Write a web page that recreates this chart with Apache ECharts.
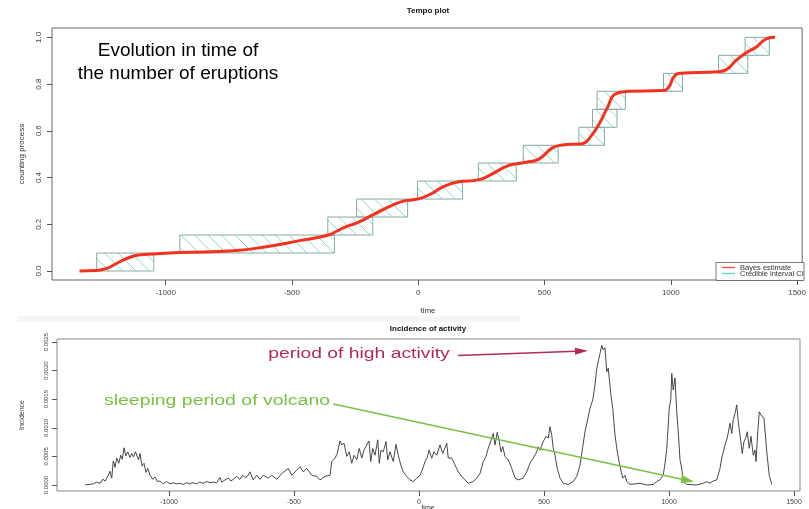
<!DOCTYPE html>
<html>
<head>
<meta charset="utf-8">
<script src="https://cdn.jsdelivr.net/npm/echarts@6/dist/echarts.min.js"></script>
<style>html,body{margin:0;padding:0;background:#fff}#c{width:809px;height:509px}</style>
</head>
<body>
<div id="c"></div>
<script>
// ---- Tempo plot: Bayes estimate of the counting process ----
const bayesTime  = [-1341,-1274,-1233,-1194,-1141,-1102,-1049,-944,-733,-601,-470,-358,-325,-285,-240,-180,-115,-62,-20,17,56,96,155,241,293,359,425,478,530,570,649,682,715,748,781,833,965,991,1011,1037,1189,1222,1255,1294,1340,1373,1406,1413];
const bayesValue = [0,0.002,0.011,0.033,0.059,0.069,0.073,0.079,0.087,0.104,0.130,0.153,0.169,0.190,0.207,0.240,0.276,0.298,0.305,0.314,0.333,0.359,0.381,0.391,0.416,0.452,0.465,0.479,0.526,0.539,0.545,0.574,0.627,0.697,0.758,0.769,0.772,0.785,0.829,0.846,0.853,0.863,0.898,0.931,0.960,0.991,1.0,1.0];

// ---- Credible interval steps (start / end of each step, step levels) ----
const ciStart  = [-1273,-944,-358,-244,-3,238,416,636,690,708,971,1189,1294];
const ciEnd    = [-1047,-332,-180,-42,175,388,554,737,787,820,1046,1305,1390];
const ciLevels = [0,0.077,0.154,0.231,0.308,0.385,0.462,0.538,0.615,0.692,0.769,0.846,0.923,1.0];

// ---- Incidence of activity ----
const incTime = [-1336,-1320,-1303,-1290,-1283,-1276,-1265,-1255,-1243,-1236,-1229,-1223,-1216,-1209,-1201,-1193,-1187,-1180,-1173,-1165,-1156,-1149,-1142,-1134,-1127,-1122,-1116,-1108,-1100,-1092,-1085,-1076,-1065,-1056,-1047,-1036,-1023,-1010,-996,-983,-970,-957,-943,-930,-917,-904,-890,-877,-863,-850,-836,-823,-809,-796,-789,-776,-763,-753,-743,-729,-716,-705,-695,-685,-676,-663,-649,-636,-623,-603,-589,-569,-549,-543,-523,-509,-489,-476,-463,-449,-429,-409,-396,-376,-356,-349,-336,-327,-316,-309,-300,-289,-279,-269,-260,-249,-239,-229,-220,-209,-200,-193,-185,-176,-165,-159,-152,-143,-132,-125,-116,-103,-92,-83,-73,-63,-49,-36,-23,-9,4,13,24,33,40,51,60,71,84,95,111,117,131,144,157,171,184,197,217,231,244,257,268,277,291,297,304,313,321,328,335,344,357,371,384,397,417,431,444,457,471,477,484,497,508,517,524,531,537,544,553,564,577,597,617,631,644,655,664,673,684,695,704,711,717,724,731,737,744,751,757,767,775,784,793,804,815,824,831,844,884,911,937,951,964,977,984,991,997,1001,1007,1011,1017,1024,1031,1037,1044,1051,1057,1071,1111,1137,1151,1164,1177,1191,1204,1211,1224,1233,1244,1251,1257,1264,1271,1277,1284,1293,1300,1307,1313,1321,1328,1337,1344,1348,1355,1361,1371,1380,1391,1401,1411];
const incValue = [0,0.00001,0.00002,0.00005,0.00006,0.00003,0.0001,0.00007,0.00017,0.00024,0.00012,0.00042,0.00031,0.00047,0.00038,0.00052,0.00045,0.00065,0.00051,0.00058,0.00048,0.00055,0.00049,0.00058,0.00061,0.00044,0.00055,0.00033,0.00038,0.00022,0.00029,0.00017,0.0001,0.00014,0.00006,0.00007,0.00002,0.00006,0.00002,0.00004,0.00002,0.00003,0.00001,0.00004,0.00002,0.00004,0.00002,0.00005,0.00003,0.00006,0.00004,0.00005,0.00004,0.00013,0.00005,0.00009,0.00012,0.00007,0.0001,0.00015,0.0001,0.00017,0.00013,0.00016,0.00023,0.00009,0.00017,0.0001,0.00017,0.00012,0.00017,0.0001,0.0002,0.00023,0.00029,0.00017,0.00026,0.00032,0.00023,0.00029,0.00017,0.00015,0.00009,0.00015,0.00017,0.00041,0.00047,0.00055,0.00077,0.0007,0.00073,0.0005,0.00058,0.00038,0.00052,0.00044,0.00064,0.00047,0.00061,0.0007,0.00077,0.00041,0.00064,0.00052,0.00079,0.00038,0.00061,0.00058,0.00076,0.00044,0.00058,0.00041,0.00071,0.00052,0.00035,0.00023,0.00015,0.00009,0.00006,0.00012,0.00017,0.00026,0.00041,0.00048,0.00061,0.00047,0.00058,0.00052,0.0007,0.00055,0.00073,0.00047,0.00047,0.00035,0.00023,0.00015,0.00009,0.00003,0.00006,0.00012,0.0002,0.00041,0.0005,0.00064,0.00082,0.0009,0.0007,0.00092,0.00076,0.00058,0.00067,0.0005,0.00044,0.00029,0.00012,0.00009,0.00012,0.00023,0.00038,0.00047,0.00058,0.00067,0.00061,0.00076,0.00085,0.00082,0.00102,0.00087,0.00064,0.00052,0.00029,0.00012,0.00003,0.00001,0.00006,0.00015,0.00035,0.00067,0.00093,0.00111,0.00134,0.00149,0.00175,0.00204,0.00216,0.0023,0.00244,0.00236,0.0024,0.00198,0.00204,0.0016,0.00134,0.00087,0.00058,0.00032,0.00012,0.00017,0.00006,0.00001,0.00003,0,0.00001,0.00006,0.00009,0.00017,0.00038,0.00064,0.00105,0.00134,0.00149,0.00195,0.00166,0.00187,0.00128,0.00093,0.00044,0.00029,0.00006,0.00001,0,0.00003,0.00006,0.00003,0.00007,0.00009,0.00029,0.00047,0.0007,0.00082,0.00108,0.0009,0.00114,0.00125,0.0014,0.00111,0.00087,0.00055,0.00076,0.00082,0.00093,0.00064,0.00085,0.00052,0.00061,0.00041,0.00093,0.00128,0.0012,0.00117,0.00058,0.00017,0.00001];

// ---- Tick labels ----
const timeTicks = [-1000,-500,0,500,1000,1500];
const countTicks = [0,0.2,0.4,0.6,0.8,1.0];
const incTicks = [0,0.0005,0.001,0.0015,0.002,0.0025];

const bayesData = bayesTime.map((t,i)=>[t,bayesValue[i]]);
const ciData = ciStart.map((s,i)=>[s,ciEnd[i],ciLevels[i],ciLevels[i+1]]);
const incData = incTime.map((t,i)=>[t,incValue[i]]);

const FONT = '"Liberation Sans", Arial, sans-serif';
const HATCH = '#7fd1cc';
const BORDER = '#86aaa7';

function renderCI(params, api){
  const p0 = api.coord([api.value(0), api.value(3)]);
  const p1 = api.coord([api.value(1), api.value(2)]);
  const left = p0[0], top = p0[1], right = p1[0], bottom = p1[1];
  const children = [];
  const s = 13.5;
  const cStart = Math.ceil((left - bottom)/s)*s;
  for (let c = cStart; c <= right - top; c += s){
    const ya = Math.max(top, left - c), yb = Math.min(bottom, right - c);
    if (yb > ya) children.push({type:'line', shape:{x1:ya+c,y1:ya,x2:yb+c,y2:yb}, style:{stroke:HATCH,lineWidth:0.9}});
  }
  children.push({type:'rect', shape:{x:left,y:top,width:right-left,height:bottom-top}, style:{fill:null,stroke:BORDER,lineWidth:1}});
  return {type:'group', children};
}

function tickAxis(extra){
  return Object.assign({
    type:'value',
    axisLine:{show:false, onZero:false},
    splitLine:{show:false}
  }, extra);
}
const plain = v => String(v);

const chart = echarts.init(document.getElementById('c'));
chart.setOption({
  animation:false,
  backgroundColor:'#fff',
  grid:[
    {left:52, top:28, width:752, height:252, show:true, borderColor:'#666', borderWidth:1},
    {left:57, top:339, width:743, height:152, show:true, borderColor:'#888', borderWidth:1}
  ],
  xAxis:[
    tickAxis({gridIndex:0, min:-1450, max:1520, position:'bottom',
      axisTick:{show:true,length:5,lineStyle:{color:'#555'},customValues:timeTicks},
      axisLabel:{customValues:timeTicks, fontSize:8, color:'#444', fontFamily:FONT, margin:9, formatter:plain}}),
    tickAxis({gridIndex:1, min:-1448, max:1524, position:'bottom',
      axisTick:{show:true,length:5,lineStyle:{color:'#555'},customValues:timeTicks},
      axisLabel:{customValues:timeTicks, fontSize:7, color:'#444', fontFamily:FONT, margin:8, formatter:plain}})
  ],
  yAxis:[
    tickAxis({gridIndex:0, min:-0.0385, max:1.04, position:'left',
      axisTick:{show:true,length:5,lineStyle:{color:'#555'},customValues:countTicks},
      axisLabel:{customValues:countTicks, rotate:90, fontSize:8, color:'#444', fontFamily:FONT, margin:9,
        formatter:v=>v.toFixed(1)}}),
    tickAxis({gridIndex:1, min:-0.000105, max:0.002552, position:'left',
      axisTick:{show:true,length:5,lineStyle:{color:'#555'},customValues:incTicks},
      axisLabel:{customValues:incTicks, rotate:90, fontSize:6, color:'#444', fontFamily:FONT, margin:8,
        formatter:v=>v.toFixed(4)}})
  ],
  series:[
    {type:'custom', xAxisIndex:0, yAxisIndex:0, data:ciData, renderItem:renderCI, silent:true, z:1},
    {type:'line', xAxisIndex:0, yAxisIndex:0, data:bayesData, showSymbol:false, smooth:0.5,
      lineStyle:{color:'#f2321f', width:3}, z:3, silent:true},
    {type:'line', xAxisIndex:1, yAxisIndex:1, data:incData, showSymbol:false,
      lineStyle:{color:'#333', width:0.9}, z:3, silent:true}
  ],
  graphic:[
    {type:'rect', shape:{x:17,y:316,width:503,height:6}, style:{fill:'#f5f5f5'}, z:0, silent:true},
    {type:'text', x:428, y:11, style:{text:'Tempo plot', font:'bold 8px '+FONT, fill:'#111', align:'center', verticalAlign:'middle', textAlign:'center', textVerticalAlign:'middle'}},
    {type:'text', x:22, y:154, rotation:Math.PI/2, style:{text:'counting process', font:'8px '+FONT, fill:'#333', align:'center', verticalAlign:'middle', textAlign:'center', textVerticalAlign:'middle'}},
    {type:'text', x:428, y:311, style:{text:'time', font:'8px '+FONT, fill:'#333', align:'center', verticalAlign:'middle', textAlign:'center', textVerticalAlign:'middle'}},
    {type:'text', x:428, y:329, style:{text:'Incidence of activity', font:'bold 8px '+FONT, fill:'#111', align:'center', verticalAlign:'middle', textAlign:'center', textVerticalAlign:'middle'}},
    {type:'text', x:22, y:415, rotation:Math.PI/2, style:{text:'Incidence', font:'7px '+FONT, fill:'#333', align:'center', verticalAlign:'middle', textAlign:'center', textVerticalAlign:'middle'}},
    {type:'text', x:428, y:508, style:{text:'time', font:'7px '+FONT, fill:'#333', align:'center', verticalAlign:'middle', textAlign:'center', textVerticalAlign:'middle'}},
    {type:'text', x:178, y:51, style:{text:'Evolution in time of', font:'19px '+FONT, fill:'#000', align:'center', verticalAlign:'middle', textAlign:'center', textVerticalAlign:'middle'}},
    {type:'text', x:178, y:74, style:{text:'the number of eruptions', font:'19px '+FONT, fill:'#000', align:'center', verticalAlign:'middle', textAlign:'center', textVerticalAlign:'middle'}},
    // legend
    {type:'rect', shape:{x:716,y:262.5,width:88,height:18}, style:{fill:'#fff',stroke:'#555',lineWidth:0.8}, z:10},
    {type:'line', shape:{x1:722,y1:267.5,x2:735,y2:267.5}, style:{stroke:'#ff4a40',lineWidth:1.3}, z:11},
    {type:'line', shape:{x1:722,y1:273.5,x2:735,y2:273.5}, style:{stroke:'#5fd0c8',lineWidth:1.3}, z:11},
    {type:'text', x:740, y:267.5, z:11, style:{text:'Bayes estimate', font:'7.5px '+FONT, fill:'#333', align:'left', verticalAlign:'middle', textAlign:'left', textVerticalAlign:'middle'}},
    {type:'text', x:740, y:273.5, z:11, style:{text:'Credible interval CI', font:'7.5px '+FONT, fill:'#333', align:'left', verticalAlign:'middle', textAlign:'left', textVerticalAlign:'middle'}},
    // annotations bottom
    {type:'text', x:359, y:354, scaleX:1.38, z:12, style:{text:'period of high activity', font:'14px '+FONT, fill:'#b22a5c', align:'center', verticalAlign:'middle', textAlign:'center', textVerticalAlign:'middle'}},
    {type:'line', shape:{x1:458,y1:355.6,x2:576,y2:351.2}, style:{stroke:'#b22a5c',lineWidth:1.5}, z:12},
    {type:'polygon', shape:{points:[[588,350.7],[575.1,354.7],[574.9,347.7]]}, style:{fill:'#b22a5c'}, z:12},
    {type:'text', x:217, y:401, scaleX:1.39, z:12, style:{text:'sleeping period of volcano', font:'14px '+FONT, fill:'#7ac143', align:'center', verticalAlign:'middle', textAlign:'center', textVerticalAlign:'middle'}},
    {type:'line', shape:{x1:333.3,y1:404,x2:682,y2:479.2}, style:{stroke:'#7ac143',lineWidth:1.5}, z:12},
    {type:'polygon', shape:{points:[[694,481.7],[680.5,482.9],[682.1,475.1]]}, style:{fill:'#7ac143'}, z:12}
  ]
});
</script>
</body>
</html>
